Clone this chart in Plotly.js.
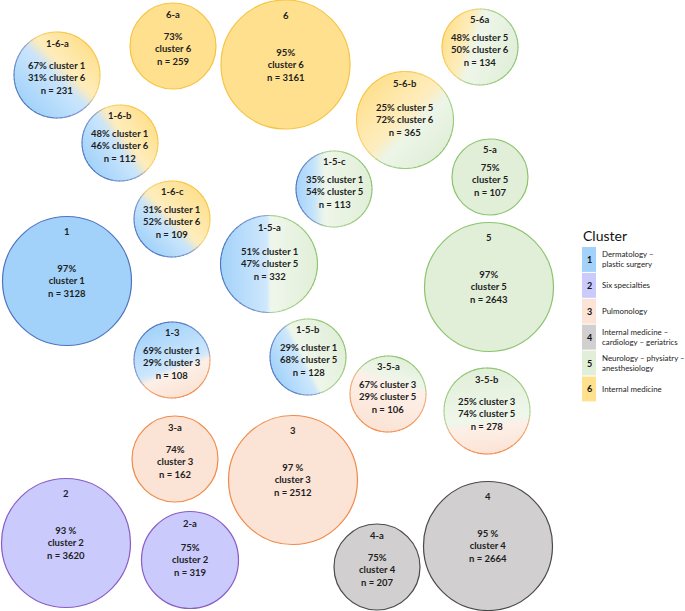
<!DOCTYPE html>
<html>
<head>
<meta charset="utf-8">
<script src="https://cdn.plot.ly/plotly-3.0.1.min.js"></script>
<style>html,body{margin:0;padding:0;background:#fff;}#chart{width:685px;height:611px;}</style>
</head>
<body>
<div id="chart"></div>
<script>
// ---- data ----
var groups   = ['1-6-a','6-a','6','5-6a','1-6-b','5-6-b','1-5-c','5-a','1-6-c','1','1-5-a','5','1-3','1-5-b','3-5-a','3-5-b','3-a','3','2','2-a','4-a','4'];
var nValues  = [231,259,3161,134,112,365,113,107,109,3128,332,2643,108,128,106,278,162,2512,3620,319,207,2664];
var clusterA = [1,6,6,5,1,5,1,5,1,1,1,5,1,1,3,3,3,3,2,2,4,4];
var pctA     = ['67%','73%','95%','48%','48%','25%','35%','75%','31%','97%','51%','97%','69%','29%','67%','25%','74%','97 %','93 %','75%','75%','95 %'];
var clusterB = [6,null,null,6,6,6,5,null,6,null,5,null,3,5,5,5,null,null,null,null,null,null];
var pctB     = ['31%',null,null,'50%','46%','72%','54%',null,'52%',null,'47%',null,'29%','68%','29%','74%',null,null,null,null,null,null];
// position of each bubble in the packed layout (pixel-like coordinates)
var posX = [57,173,285.5,480,120,405,334,490,172,67,269,489,172,308,388,487,175,293,66,190,377,488];
var posY = [75,46,64.5,47,143,120,189,177,219,281,264,287,360,357,394,411,459,480,543,560,567,546];

var clusterIds   = [1,2,3,4,5,6];
var clusterNames = ['Dermatology –<br>plastic surgery','Six specialties','Pulmonology','Internal medicine –<br>cardiology – geriatrics','Neurology – physiatry –<br>anesthesiology','Internal medicine'];

// ---- styles ----
var fill = {1:'#a2d2fa',2:'#cacafc',3:'#fbe3d5',4:'#d1cfcf',5:'#e1efd9',6:'#fee08e'};
var edge = {1:'#4f74bf',2:'#8a5cc4',3:'#f08a48',4:'#4a4a4a',5:'#8cc36c',6:'#f6c443'};
// mixed bubbles: [start cluster, end cluster, direction dx, dy, transition position, transition half-width]
var mixStyle = {
  '1-6-a':[1,6, 1,-1,   0.1, 0.2], '1-6-b':[1,6, 1,-0.7, 0.05,0.2], '1-6-c':[1,6, 1,-1, -0.1,0.2],
  '5-6a': [6,5, 1,0.3, -0.3, 0.22], '5-6-b':[6,5, 1,1,    0.1, 0.22],
  '1-5-c':[1,5, 1,0,   -0.4, 0.22], '1-5-a':[1,5, 1,0,    0.0, 0.05], '1-5-b':[1,5, 1,-0.5,-0.15,0.1],
  '1-3':  [1,3, 0.4,1,  0.25,0.12], '3-5-a':[5,3, -0.3,1,-0.35,0.14], '3-5-b':[5,3, 0.1,1, 0.3,0.12]
};
function radiusFor(n){ return n>=2000?64.5:(n>=300?48.5:(n>=150?43:38)); }

function hex2rgb(h){ return [parseInt(h.substr(1,2),16),parseInt(h.substr(3,2),16),parseInt(h.substr(5,2),16)]; }
function mix(a,b,f){ return [a[0]+(b[0]-a[0])*f, a[1]+(b[1]-a[1])*f, a[2]+(b[2]-a[2])*f]; }
function css(c){ return 'rgb('+Math.round(c[0])+','+Math.round(c[1])+','+Math.round(c[2])+')'; }
var WHITE=[255,255,255];
function sideColor(cA,cB,u,s,w,pale){
  var A=hex2rgb(cA), B=hex2rgb(cB);
  var pA=mix(A,WHITE,pale), pB=mix(B,WHITE,pale);
  function colA(v){ var f=Math.min(1,Math.max(0,(s-v)/(s+1))); return mix(pA,A,f); }
  function colB(v){ var f=Math.min(1,Math.max(0,(v-s)/(1-s))); return mix(pB,B,f); }
  if (u<=s-w) return colA(u);
  if (u>=s+w) return colB(u);
  var f=(u-(s-w))/(2*w); f=f*f*(3-2*f);
  return mix(colA(s-w),colB(s+w),f);
}
function circlePts(cx,cy,r,n){ var p=[]; for(var k=0;k<n;k++){var a=2*Math.PI*k/n; p.push([cx+r*Math.cos(a),cy+r*Math.sin(a)]);} return p; }
function clipHalf(poly,fn){
  var out=[]; for(var k=0;k<poly.length;k++){
    var P=poly[k], Q=poly[(k+1)%poly.length], fp=fn(P), fq=fn(Q);
    if(fp>=0) out.push(P);
    if((fp>=0)!==(fq>=0)){ var t=fp/(fp-fq); out.push([P[0]+(Q[0]-P[0])*t, P[1]+(Q[1]-P[1])*t]); }
  } return out;
}
function pathOf(poly){ return 'M'+poly.map(function(p){return p[0].toFixed(2)+','+p[1].toFixed(2);}).join('L')+'Z'; }

var colors=[], lcolors=[], lwidths=[], sizes=[];
var annotations=[], shapes=[];
var FONT='Lato, "Open Sans", sans-serif';
var NSTRIP=40, NARC=60;
for (var i=0;i<groups.length;i++){
  var g=groups[i], r=radiusFor(nValues[i]), cx=posX[i], cy=posY[i];
  sizes.push(2*r);
  var ms=mixStyle[g];
  if (ms){
    colors.push('rgba(0,0,0,0)'); lcolors.push('rgba(0,0,0,0)'); lwidths.push(0);
    var L=Math.hypot(ms[2],ms[3]), dx=ms[2]/L, dy=ms[3]/L;
    var circ=circlePts(cx,cy,r,120);
    for (var k=0;k<NSTRIP;k++){
      var t0=-r+2*r*k/NSTRIP-0.4, t1=-r+2*r*(k+1)/NSTRIP+0.4;
      var poly=clipHalf(circ,function(p){return (p[0]-cx)*dx+(p[1]-cy)*dy-t0;});
      poly=clipHalf(poly,function(p){return t1-((p[0]-cx)*dx+(p[1]-cy)*dy);});
      if(poly.length<3) continue;
      var um=(-r+2*r*(k+0.5)/NSTRIP)/r;
      var c=sideColor(fill[ms[0]],fill[ms[1]],um,ms[4],ms[5],0.5);
      shapes.push({type:'path',xref:'x',yref:'y',path:pathOf(poly),fillcolor:css(c),line:{width:0},layer:'below'});
    }
    for (var k2=0;k2<NARC;k2++){
      var a0=2*Math.PI*k2/NARC, a1=2*Math.PI*(k2+1.15)/NARC, am=(a0+a1)/2;
      var pts=[[cx+r*Math.cos(a0),cy+r*Math.sin(a0)],[cx+r*Math.cos(am),cy+r*Math.sin(am)],[cx+r*Math.cos(a1),cy+r*Math.sin(a1)]];
      var u=Math.cos(am)*dx+Math.sin(am)*dy;
      var ec=sideColor(edge[ms[0]],edge[ms[1]],u,ms[4],ms[5]+0.05,0.35);
      shapes.push({type:'path',xref:'x',yref:'y',path:'M'+pts.map(function(p){return p[0].toFixed(2)+','+p[1].toFixed(2);}).join('L'),
        line:{color:css(ec),width:1.1},layer:'below'});
    }
  } else {
    colors.push(fill[clusterA[i]]); lcolors.push(edge[clusterA[i]]); lwidths.push(1.2);
  }
  var body;
  if (clusterB[i]===null){
    body = pctA[i]+'<br>cluster '+clusterA[i]+'<br>n = '+nValues[i];
  } else {
    body = pctA[i]+' cluster '+clusterA[i]+'<br>'+pctB[i]+' cluster '+clusterB[i]+'<br>n = '+nValues[i];
  }
  annotations.push({x:cx, y:cy-r+0.2*r+2.5, xref:'x', yref:'y', text:'<b>'+g+'</b>', showarrow:false,
    xanchor:'center', yanchor:'middle', font:{family:FONT, size:9.5, color:'#1e1e1e'}});
  annotations.push({x:cx, y:cy+(r<45?3:0), xref:'x', yref:'y', text:'<b>'+body+'</b>', showarrow:false,
    xanchor:'center', yanchor:'middle', font:{family:FONT, size:9.5, color:'#1e1e1e'}});
}

// legend
var lgX=582, lgY=247, lgStep=25.9, lgW=14;
annotations.push({x:lgX-1, y:lgY-12, xref:'x', yref:'y', text:'Cluster', showarrow:false, xanchor:'left', yanchor:'middle',
  font:{family:FONT, size:14, color:'#111'}});
for (var m=0;m<clusterIds.length;m++){
  var y0=lgY+m*lgStep;
  shapes.push({type:'rect', xref:'x', yref:'y', x0:lgX, x1:lgX+lgW, y0:y0, y1:y0+lgStep-1, fillcolor:fill[clusterIds[m]], line:{width:0}, layer:'below'});
  annotations.push({x:lgX+lgW/2, y:y0+(lgStep-1)/2, xref:'x', yref:'y', text:'<b>'+clusterIds[m]+'</b>', showarrow:false,
    xanchor:'center', yanchor:'middle', font:{family:FONT, size:9, color:'#111'}});
  annotations.push({x:lgX+lgW+4, y:y0+(lgStep-1)/2, xref:'x', yref:'y', text:clusterNames[m], showarrow:false,
    xanchor:'left', yanchor:'middle', align:'left', font:{family:FONT, size:7.9, color:'#222'}});
}

var trace={type:'scatter', mode:'markers', x:posX, y:posY, hoverinfo:'skip',
  marker:{size:sizes, sizemode:'diameter', color:colors, opacity:1, line:{color:lcolors, width:lwidths}}};

var ax={showgrid:false, zeroline:false, showticklabels:false, ticks:'', showline:false, fixedrange:true};
var layout={width:685, height:611, margin:{l:0,r:0,t:0,b:0}, paper_bgcolor:'#fff', plot_bgcolor:'#fff',
  xaxis:Object.assign({range:[0,685]},ax), yaxis:Object.assign({range:[611,0]},ax),
  showlegend:false, shapes:shapes, annotations:annotations};
Plotly.newPlot('chart',[trace],layout,{displayModeBar:false,staticPlot:true});
</script>
</body>
</html>
